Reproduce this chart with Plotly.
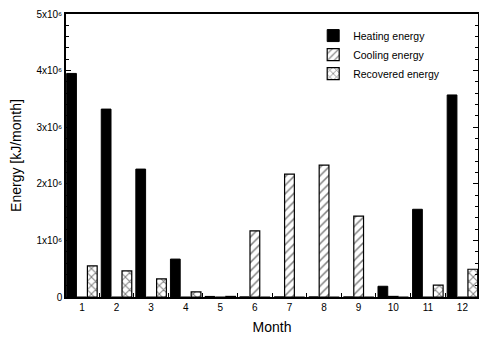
import plotly.graph_objects as go

months = list(range(1, 13))
month_labels = [str(m) for m in months]
heating = [3.95e6, 3.32e6, 2.26e6, 0.67e6, 0.01e6, 0, 0, 0, 0, 0.19e6, 1.55e6, 3.57e6]
cooling = [0, 0, 0, 0, 0, 1.17e6, 2.17e6, 2.33e6, 1.43e6, 0.01e6, 0, 0]
recovered = [0.55e6, 0.46e6, 0.32e6, 0.09e6, 0.01e6, 0, 0, 0, 0, 0, 0.21e6, 0.49e6]
y_tickvals = [0, 1e6, 2e6, 3e6, 4e6, 5e6]
y_ticktext = ["0", "1x10⁶", "2x10⁶", "3x10⁶", "4x10⁶", "5x10⁶"]

fig = go.Figure()
fig.add_trace(go.Bar(x=months, y=heating, name="Heating energy",
                     marker=dict(color="black", line=dict(color="black", width=1))))
fig.add_trace(go.Bar(x=months, y=cooling, name="Cooling energy",
                     marker=dict(color="white", line=dict(color="black", width=1.2),
                                 pattern=dict(shape="/", fgcolor="black", bgcolor="white",
                                              size=6, solidity=0.25))))
fig.add_trace(go.Bar(x=months, y=recovered, name="Recovered energy",
                     marker=dict(color="white", line=dict(color="black", width=1.2),
                                 pattern=dict(shape="x", fgcolor="black", bgcolor="white",
                                              size=6, solidity=0.3))))

fig.update_layout(
    width=479, height=343,
    margin=dict(l=66, r=1, t=14, b=46, autoexpand=False),
    barmode="group", bargap=0.1, bargroupgap=0.06,
    plot_bgcolor="white", paper_bgcolor="white",
    font=dict(family="Liberation Sans, Arial, sans-serif", color="black", size=10),
    showlegend=True,
    legend=dict(x=0.6, y=0.975, xanchor="left", yanchor="top",
                bgcolor="rgba(0,0,0,0)", font=dict(size=10.5),
                tracegroupgap=0, itemwidth=30),
    xaxis=dict(range=[0.54, 12.45], tickvals=months, ticktext=month_labels,
               ticks="inside", ticklen=0, tickcolor="black",
               showline=True, linecolor="black", linewidth=1.5,
               mirror=True, showgrid=False, zeroline=False, automargin=False,
               tickfont=dict(size=10),
               minor=dict(tick0=0.5, dtick=1, ticks="inside", ticklen=4,
                          tickcolor="black", showgrid=False),
               title=dict(text="Month", font=dict(size=14), standoff=10)),
    yaxis=dict(range=[0, 5e6], tickvals=y_tickvals, ticktext=y_ticktext,
               ticks="inside", ticklen=5, tickcolor="black",
               showline=True, linecolor="black", linewidth=1.5,
               mirror="ticks", showgrid=False, zeroline=False, automargin=False,
               tickfont=dict(size=10),
               minor=dict(dtick=2e5, ticks="inside", ticklen=3,
                          tickcolor="black", showgrid=False),
               title=dict(text="Energy [kJ/month]", font=dict(size=14), standoff=12)),
)

fig.write_html("out.html", config={"displayModeBar": False},
               post_script="document.body.style.margin='0';document.body.style.overflow='hidden';")
